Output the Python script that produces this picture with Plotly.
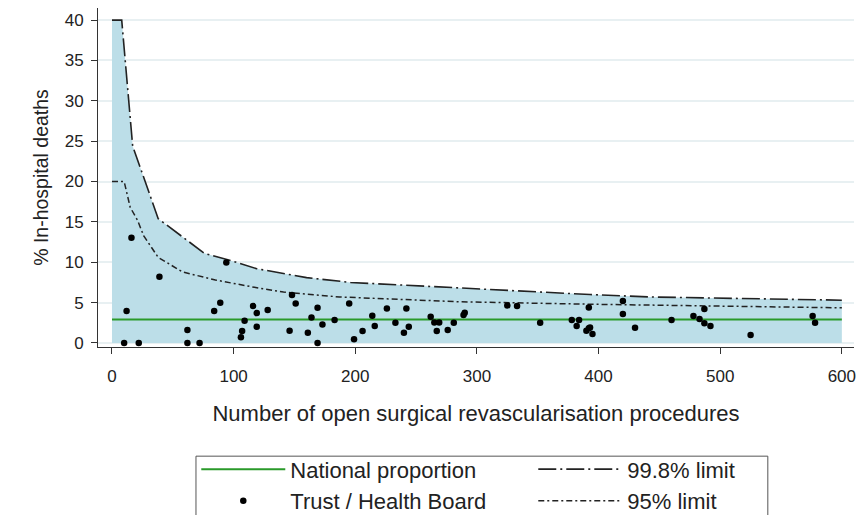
import plotly.graph_objects as go

# Control limits (x = procedures, y = % deaths)
lim998_x = [0, 8, 17, 38, 76, 100, 119, 160, 196, 286, 393, 442, 600]
lim998_y = [40, 40, 24.4, 15.4, 11.1, 10.1, 9.2, 8.1, 7.5, 6.8, 6.0, 5.7, 5.3]

lim95_x = [0, 10, 15, 21, 26, 38, 58, 85, 117, 141, 187, 286, 393, 442, 600]
lim95_y = [20, 20, 16.8, 15.2, 13.3, 10.6, 8.8, 7.8, 6.9, 6.3, 5.7, 5.1, 4.8, 4.7, 4.35]

national_x = [0, 600]
national_y = [2.9, 2.9]

# Trusts / Health Boards
trust_n = [16, 94, 39, 12, 89, 84, 116, 128, 119, 109, 62, 107, 119, 106,
           10, 22, 62, 72, 148, 151, 169, 195, 226, 242, 164, 183, 214, 173,
           216, 233, 244, 146, 161, 206, 240, 169, 199, 262, 265, 269, 267,
           276, 281, 289, 290, 325, 333, 352, 378, 384, 382, 392, 390, 392,
           393, 395, 420, 420, 430, 460, 478, 483, 487, 487, 492, 525, 576, 578]
trust_pct = [13.05, 9.96, 8.19, 3.95, 4.98, 3.95, 4.57, 4.07, 3.70, 2.76, 1.6, 1.48, 2.02, 0.7,
             0, 0, 0, 0, 5.93, 4.9, 4.36, 4.9, 4.28, 4.28, 3.17, 2.84, 3.37, 2.3,
             2.1, 2.51, 2.01, 1.52, 1.28, 1.48, 1.28, 0, 0.45, 3.25, 2.55, 2.55, 1.48,
             1.6, 2.5, 3.46, 3.74, 4.65, 4.57, 2.5, 2.84, 2.84, 2.1, 4.4, 1.5, 1.81,
             1.93, 1.1, 5.19, 3.58, 1.9, 2.84, 3.33, 2.96, 4.2, 2.43, 2.1, 0.99, 3.33, 2.51]

FONT = "Arial, Liberation Sans, sans-serif"

fig = go.Figure()

# shaded band under the 99.8% limit
fig.add_trace(go.Scatter(x=lim998_x, y=lim998_y, mode="lines", fill="tozeroy",
                         fillcolor="#bcdee8", line={"width": 0},
                         showlegend=False, hoverinfo="skip"))

fig.add_trace(go.Scatter(x=national_x, y=national_y, mode="lines",
                         line={"color": "#2a9a2a", "width": 2},
                         name="National proportion", legendrank=1))
fig.add_trace(go.Scatter(x=lim95_x, y=lim95_y, mode="lines",
                         line={"color": "#222222", "width": 1.5,
                               "dash": "6px,3px,2px,3px"},
                         name="95% limit", legendrank=4))
fig.add_trace(go.Scatter(x=lim998_x, y=lim998_y, mode="lines",
                         line={"color": "#222222", "width": 1.6,
                               "dash": "18px,4px,2px,4px"},
                         name="99.8% limit", legendrank=2))
fig.add_trace(go.Scatter(x=trust_n, y=trust_pct, mode="markers",
                         marker={"color": "black", "size": 6.5},
                         name="Trust / Health Board", legendrank=3))

axis_common = dict(showline=True, linecolor="#333333", linewidth=1,
                   ticks="outside", ticklen=6, tickcolor="#333333",
                   tickfont={"size": 17, "color": "#222222", "family": FONT},
                   zeroline=False)

fig.update_xaxes(range=[-11.5, 610], tickvals=[0, 100, 200, 300, 400, 500, 600],
                 showgrid=False, ticklabelstandoff=8,
                 title={"text": "Number of open surgical revascularisation procedures",
                        "font": {"size": 22, "color": "#222222", "family": FONT},
                        "standoff": 20},
                 **axis_common)
fig.update_yaxes(range=[-0.5, 41.5], tickvals=[0, 5, 10, 15, 20, 25, 30, 35, 40],
                 showgrid=True, gridcolor="#e8f0f2", gridwidth=1.5,
                 ticklabelstandoff=4,
                 title={"text": "% In-hospital deaths",
                        "font": {"size": 19.5, "color": "#222222", "family": FONT},
                        "standoff": 10},
                 **axis_common)

# legend frame (runs off the bottom of the picture like the original)
fig.add_shape(type="rect", xref="paper", yref="paper",
              x0=0.1296, x1=0.886, y0=-0.56, y1=-0.322,
              line={"color": "#555555", "width": 1}, fillcolor="rgba(0,0,0,0)")

fig.update_layout(
    width=859, height=515,
    margin={"l": 98, "r": 5, "t": 8, "b": 168, "autoexpand": False},
    paper_bgcolor="white", plot_bgcolor="white",
    font={"family": FONT},
    legend={"orientation": "h", "x": 0.13, "y": -0.299,
            "xanchor": "left", "yanchor": "top",
            "entrywidth": 238, "entrywidthmode": "pixels",
            "itemwidth": 84, "bgcolor": "rgba(0,0,0,0)", "borderwidth": 0,
            "font": {"size": 22, "color": "#222222", "family": FONT}},
)

# drop the default page margin so the 859x515 figure fills the window exactly
fig.write_html("out.html", config={"displayModeBar": False},
               post_script="document.body.style.margin='0';"
                           "document.body.style.overflow='hidden';")
